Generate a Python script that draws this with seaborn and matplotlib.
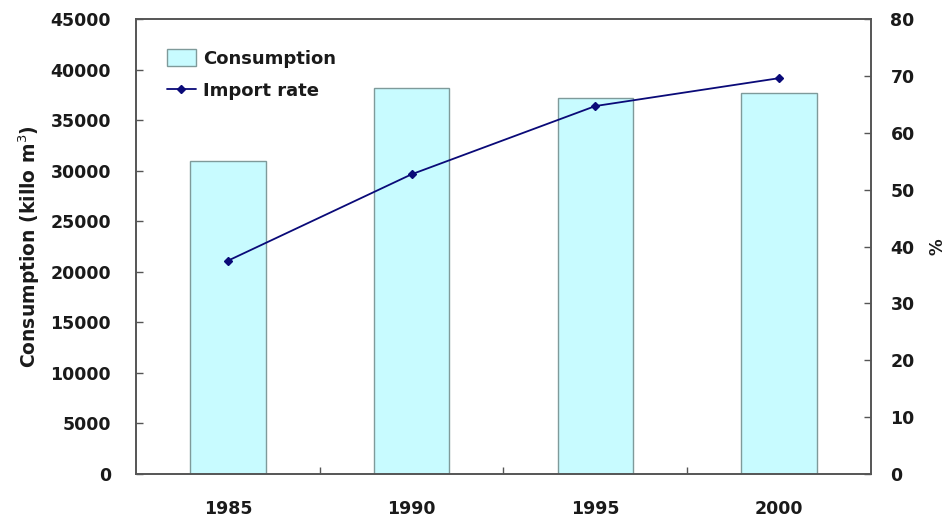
import matplotlib
matplotlib.use("Agg")
import matplotlib.pyplot as plt
import seaborn as sns
import pandas as pd
from matplotlib.patches import Patch
from matplotlib.lines import Line2D
from matplotlib.ticker import FixedLocator, MultipleLocator

# Data
years = ["1985", "1990", "1995", "2000"]
consumption = [31000, 38200, 37200, 37700]   # kilo m^3
import_rate = [37.5, 52.7, 64.7, 69.6]        # %

df = pd.DataFrame({"year": years, "consumption": consumption, "import_rate": import_rate})

sns.set_theme(style="white")
plt.rcParams["font.family"] = ["DejaVu Sans"]

fig = plt.figure(figsize=(9.5, 5.27), dpi=100)
ax = fig.add_axes([0.1432, 0.1006, 0.7736, 0.8633])

bar_color = "#c8fbff"
edge_color = "#7f9a9a"
line_color = "#0a0a78"
spine_color = "#555555"
text_color = "#1a1a1a"

sns.barplot(data=df, x="year", y="consumption", ax=ax, color=bar_color,
            edgecolor=edge_color, linewidth=1.0, width=0.41, saturation=1)

ax2 = ax.twinx()
sns.pointplot(data=df, x="year", y="import_rate", ax=ax2, color=line_color,
              markers="D", markersize=4.5, linewidth=1.3, errorbar=None)

ax.set_xlim(-0.5, 3.5)
ax.set_ylim(0, 45000)
ax2.set_ylim(0, 80)
ax.yaxis.set_major_locator(MultipleLocator(5000))
ax2.yaxis.set_major_locator(MultipleLocator(10))

for a in (ax, ax2):
    for s in a.spines.values():
        s.set_color(spine_color)
        s.set_linewidth(1.2)
        s.set_visible(True)

# category separators as inward minor ticks
ax.xaxis.set_minor_locator(FixedLocator([0.5, 1.5, 2.5]))
ax.tick_params(axis="x", which="major", length=0, pad=19, labelsize=12.5,
               labelcolor=text_color)
ax.tick_params(axis="x", which="minor", direction="in", length=5, width=1,
               color=spine_color, bottom=True)
ax.tick_params(axis="y", direction="in", length=5, width=1, color=spine_color,
               pad=18, labelsize=12.5, labelcolor=text_color, left=True)
ax2.tick_params(axis="y", direction="in", length=5, width=1, color=spine_color,
                pad=14, labelsize=12.5, labelcolor=text_color, right=True)

for lbl in ax.get_xticklabels() + ax.get_yticklabels() + ax2.get_yticklabels():
    lbl.set_fontweight("bold")

ax.set_xlabel("")
ax.set_ylabel("Consumption (killo m$^3$)", fontsize=13.5, fontweight="bold",
              color=text_color, labelpad=6)
ax2.set_ylabel("%", fontsize=12, fontweight="bold", color=text_color,
               rotation=90, labelpad=10)

handles = [
    Patch(facecolor=bar_color, edgecolor=edge_color, linewidth=1.0),
    Line2D([0], [0], color=line_color, marker="D", markersize=4.5, linewidth=1.3),
]
leg = ax.legend(handles, ["Consumption", "Import rate"], loc="upper left",
                bbox_to_anchor=(0.02, 0.97), frameon=False,
                prop={"size": 13, "weight": "bold"}, handlelength=1.6,
                handleheight=1.1, handletextpad=0.4, labelspacing=0.75)
for t in leg.get_texts():
    t.set_color(text_color)

ax.grid(False)
ax2.grid(False)

fig.savefig("out.png", dpi=100, facecolor="white")
